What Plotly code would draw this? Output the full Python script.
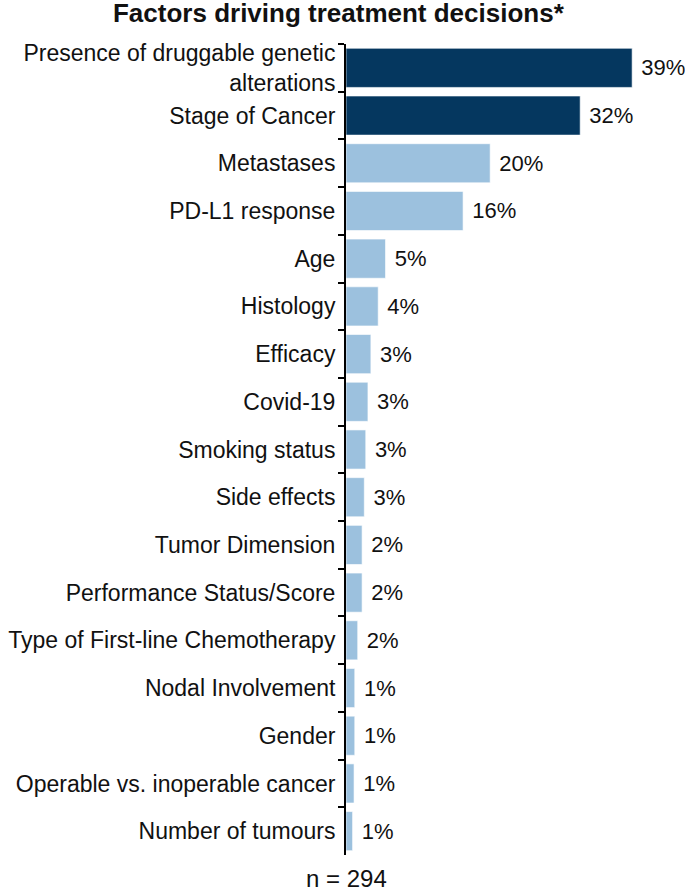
import plotly.graph_objects as go

categories = [
    "Presence of druggable genetic<br>alterations",
    "Stage of Cancer",
    "Metastases",
    "PD-L1 response",
    "Age",
    "Histology",
    "Efficacy",
    "Covid-19",
    "Smoking status",
    "Side effects",
    "Tumor Dimension",
    "Performance Status/Score",
    "Type of First-line Chemotherapy",
    "Nodal Involvement",
    "Gender",
    "Operable vs. inoperable cancer",
    "Number of tumours",
]
values = [39.1, 32.0, 19.7, 16.0, 5.4, 4.4, 3.4, 3.0, 2.7, 2.5, 2.2, 2.2, 1.6, 1.2, 1.2, 1.1, 0.9]
labels = ["39%", "32%", "20%", "16%", "5%", "4%", "3%", "3%", "3%", "3%", "2%", "2%", "2%", "1%", "1%", "1%", "1%"]
highlight = [True, True] + [False] * 15

DARK = "#05375f"
LIGHT = "#9cc1de"
colors = [DARK if h else LIGHT for h in highlight]
FONT = "Liberation Sans, Arial, sans-serif"

fig = go.Figure(
    go.Bar(
        y=categories,
        x=values,
        orientation="h",
        marker=dict(color=colors, line=dict(color="rgba(255,255,255,0.6)", width=1)),
        text=labels,
        texttemplate=" %{text}",
        textposition="outside",
        textfont=dict(family=FONT, size=22, color="#111111"),
        cliponaxis=False,
        width=0.82,
    )
)

fig.update_layout(
    width=685,
    height=889,
    margin=dict(l=346, r=17, t=44, b=34, autoexpand=False),
    paper_bgcolor="white",
    plot_bgcolor="white",
    showlegend=False,
    font=dict(family=FONT, size=23, color="#111111"),
    title=dict(
        text="<b>Factors driving treatment decisions*</b>",
        x=0.494, xanchor="center", xref="container",
        y=0.986, yanchor="middle", yref="container",
        font=dict(size=26, color="#111111"),
    ),
    annotations=[
        dict(
            text="n = 294", xref="paper", yref="paper",
            x=0.0, y=0, yshift=-23, xanchor="center", yanchor="middle",
            showarrow=False, font=dict(size=24, color="#111111"),
        )
    ],
)

fig.update_xaxes(range=[0, 44], visible=False, showgrid=False, zeroline=False)
fig.update_yaxes(
    autorange="reversed",
    automargin=False,
    showline=True, linecolor="black", linewidth=2,
    ticks="outside", ticklen=6, tickwidth=2, tickcolor="black",
    tickson="boundaries",
    ticklabelstandoff=4,
    showgrid=False, zeroline=False,
    tickfont=dict(size=23, color="#111111"),
)

fig.write_html(
    "out.html",
    config={"displayModeBar": False},
    post_script="document.body.style.margin='0';document.body.style.overflow='hidden';",
)
